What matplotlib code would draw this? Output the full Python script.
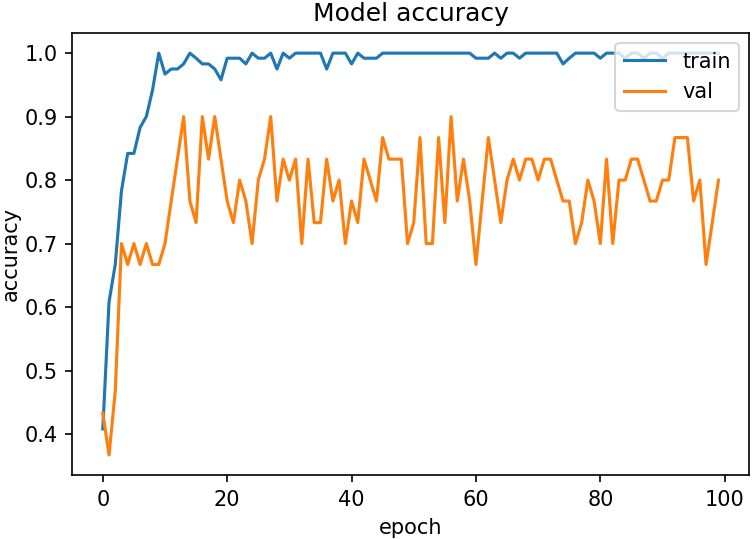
import matplotlib
matplotlib.use("Agg")
import matplotlib.pyplot as plt

# accuracy per epoch
train_acc = [
    0.408, 0.608, 0.667, 0.783, 0.842, 0.842, 0.883, 0.900, 0.942, 1.000,
    0.967, 0.975, 0.975, 0.983, 1.000, 0.992, 0.983, 0.983, 0.975, 0.958,
    0.992, 0.992, 0.992, 0.983, 1.000, 0.992, 0.992, 1.000, 0.975, 1.000,
    0.992, 1.000, 1.000, 1.000, 1.000, 1.000, 0.975, 1.000, 1.000, 1.000,
    0.983, 1.000, 0.992, 0.992, 0.992, 1.000, 1.000, 1.000, 1.000, 1.000,
    1.000, 1.000, 1.000, 1.000, 1.000, 1.000, 1.000, 1.000, 1.000, 1.000,
    0.992, 0.992, 0.992, 1.000, 0.992, 1.000, 1.000, 0.992, 1.000, 1.000,
    1.000, 1.000, 1.000, 1.000, 0.983, 0.992, 1.000, 1.000, 1.000, 1.000,
    0.992, 1.000, 1.000, 1.000, 0.992, 1.000, 1.000, 0.992, 1.000, 1.000,
    0.992, 1.000, 1.000, 1.000, 1.000, 1.000, 1.000, 1.000, 1.000, 1.000,
]
val_acc = [
    0.433, 0.367, 0.467, 0.700, 0.667, 0.700, 0.667, 0.700, 0.667, 0.667,
    0.700, 0.767, 0.833, 0.900, 0.767, 0.733, 0.900, 0.833, 0.900, 0.833,
    0.767, 0.733, 0.800, 0.767, 0.700, 0.800, 0.833, 0.900, 0.767, 0.833,
    0.800, 0.833, 0.700, 0.833, 0.733, 0.733, 0.833, 0.767, 0.800, 0.700,
    0.767, 0.733, 0.833, 0.800, 0.767, 0.867, 0.833, 0.833, 0.833, 0.700,
    0.733, 0.867, 0.700, 0.700, 0.867, 0.733, 0.900, 0.767, 0.833, 0.767,
    0.667, 0.767, 0.867, 0.800, 0.733, 0.800, 0.833, 0.800, 0.833, 0.833,
    0.800, 0.833, 0.833, 0.800, 0.767, 0.767, 0.700, 0.733, 0.800, 0.767,
    0.700, 0.833, 0.700, 0.800, 0.800, 0.833, 0.833, 0.800, 0.767, 0.767,
    0.800, 0.800, 0.867, 0.867, 0.867, 0.767, 0.800, 0.667, 0.733, 0.800,
]

dpi = 150
fig = plt.figure(figsize=(755 / dpi, 539 / dpi), dpi=dpi)
ax = fig.add_axes([0.0954, 0.1187, 0.897, 0.820])

ax.plot(train_acc, label="train")
ax.plot(val_acc, label="val")
ax.set_title("Model accuracy")
ax.set_ylabel("accuracy", labelpad=1.5)
ax.set_xlabel("epoch")
ax.legend(loc="upper right")

fig.savefig("out.png", dpi=dpi)
